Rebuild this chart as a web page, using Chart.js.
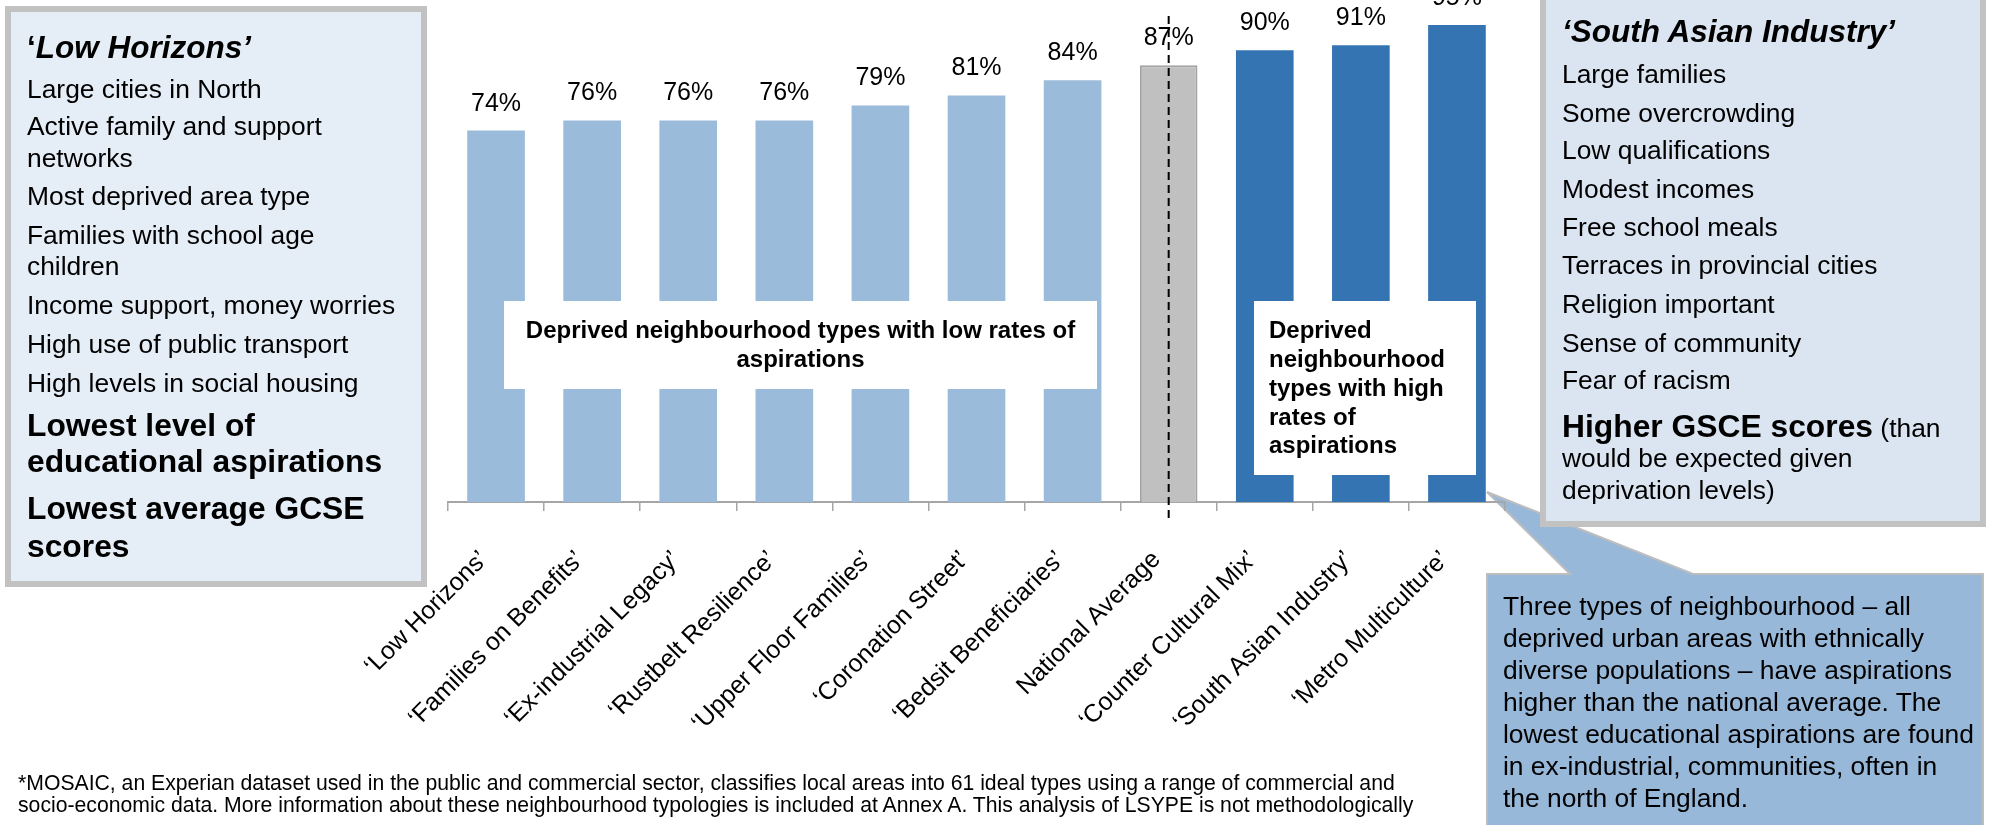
<!DOCTYPE html>
<html>
<head>
<meta charset="utf-8">
<script src="https://cdn.jsdelivr.net/npm/chart.js@4.4.1/dist/chart.umd.min.js"></script>
<style>
  html, body { margin: 0; padding: 0; }
  body { width: 1992px; height: 825px; overflow: hidden; background: #fff; position: relative;
         font-family: "Liberation Sans", Arial, sans-serif; color: #000; }
  .t { position: absolute; white-space: pre; }
  .box { position: absolute; box-sizing: border-box; }
</style>
</head>
<body>
<svg id="callout" width="1992" height="825" style="position:absolute;left:0;top:0;z-index:1">
  <path d="M1487,574 L1570,574 L1487,492 L1693,574 L1983,574 L1983,840 L1487,840 Z"
        fill="#98b8da" stroke="#bdbdbd" stroke-width="2" stroke-linejoin="miter"/>
</svg>
<canvas id="chart" width="1992" height="825" style="position:absolute;left:0;top:0;z-index:2;width:1992px;height:825px"></canvas>
<div id="overlay" style="position:absolute;left:0;top:0;width:1992px;height:825px;z-index:3;pointer-events:none"></div>
<script>
// ---------- DATA ----------
const categories = [
  "\u2018Low Horizons\u2019",
  "\u2018Families on Benefits\u2019",
  "\u2018Ex-industrial Legacy\u2019",
  "\u2018Rustbelt Resilience\u2019",
  "\u2018Upper Floor Families\u2019",
  "\u2018Coronation Street\u2019",
  "\u2018Bedsit Beneficiaries\u2019",
  "National Average",
  "\u2018Counter Cultural Mix\u2019",
  "\u2018South Asian Industry\u2019",
  "\u2018Metro Multiculture\u2019"
];
const values = [74, 76, 76, 76, 79, 81, 84, 87, 90, 91, 95];
const groups = ["low", "low", "low", "low", "low", "low", "low", "avg", "high", "high", "high"];

const lowBoxLines = ["Deprived neighbourhood types with low rates of", "aspirations"];
const highBoxLines = ["Deprived", "neighbourhood", "types with high", "rates of", "aspirations"];
const leftTitle = "Low Horizons";
const leftLines = ["Large cities in North", "Active family and support", "networks", "Most deprived area type",
  "Families with school age", "children", "Income support, money worries", "High use of public transport",
  "High levels in social housing"];
const leftBold = ["Lowest level of", "educational aspirations", "Lowest average GCSE", "scores"];
const rightTitle = "South Asian Industry";
const rightLines = ["Large families", "Some overcrowding", "Low qualifications", "Modest incomes", "Free school meals",
  "Terraces in provincial cities", "Religion important", "Sense of community", "Fear of racism"];
const rightBold = "Higher GSCE scores";
const rightTail = [" (than", "would be expected given", "deprivation levels)"];
const calloutLines = ["Three types of neighbourhood \u2013 all", "deprived urban areas with ethnically",
  "diverse populations \u2013 have aspirations", "higher than the national average. The",
  "lowest educational aspirations are found", "in ex-industrial, communities, often in", "the north of England."];
const footnoteLines = [
  "*MOSAIC, an Experian dataset used in the public and commercial sector, classifies local areas into 61 ideal types using a range of commercial and",
  "socio-economic data. More information about these neighbourhood typologies is included at Annex A. This analysis of LSYPE is not methodologically"
];

// ---------- STYLE ----------
const FONT = '"Liberation Sans", Arial, sans-serif';
const groupColors = { low: "#9bbbdb", avg: "#c0c0c0", high: "#3474b2" };
const groupBorder = { low: "#9bbbdb", avg: "#a3a3a3", high: "#3474b2" };

// ---------- HTML overlay text ----------
const overlay = document.getElementById("overlay");
function el(tag, cls, css, parent) {
  const e = document.createElement(tag);
  if (cls) e.className = cls;
  Object.assign(e.style, css || {});
  (parent || overlay).appendChild(e);
  return e;
}
function line(text, x, baseline, size, opts) {
  opts = opts || {};
  const e = el("div", "t", {
    left: x + "px", top: (baseline - 0.8465 * size) + "px",
    fontSize: size + "px", lineHeight: size + "px",
    fontWeight: opts.bold ? "bold" : "normal",
    fontStyle: opts.italic ? "italic" : "normal"
  });
  if (opts.width) { e.style.width = opts.width + "px"; e.style.textAlign = "center"; }
  if (opts.html) e.innerHTML = text; else e.textContent = text;
  return e;
}

// left box
el("div", "box", { left: "5px", top: "6px", width: "422px", height: "581px",
  background: "#e5edf6", border: "6px solid #c2c2c2" });
line("<span style='font-style:normal'>\u2018</span>" + leftTitle + "\u2019", 27, 59, 31.5, { bold: true, italic: true, html: true });
[98, 135, 167, 205, 244, 275, 314, 353, 392].forEach((b, i) => line(leftLines[i], 27, b, 26.4));
[437, 473, 520, 558].forEach((b, i) => line(leftBold[i], 27, b, 31.8, { bold: true }));

// right box
el("div", "box", { left: "1540px", top: "-20px", width: "446px", height: "547px",
  background: "#dbe5f1", border: "6px solid #c2c2c2" });
line("\u2018" + rightTitle + "\u2019", 1562, 43, 31.5, { bold: true, italic: true });
[83, 122, 159, 198, 236, 274, 313, 352, 389].forEach((b, i) => line(rightLines[i], 1562, b, 26.4));
line("<b style='font-size:31.8px'>" + rightBold + "</b>" + rightTail[0], 1562, 435, 26.4, { html: true });
line(rightTail[1], 1562, 467, 26.4);
line(rightTail[2], 1562, 499, 26.4);

// callout text
[615, 647, 679, 711, 743, 775, 807].forEach((b, i) => line(calloutLines[i], 1503, b, 26.4));

// white boxes over bars
el("div", "box", { left: "504px", top: "301px", width: "593px", height: "88px", background: "#fff" });
line(lowBoxLines[0], 504, 338, 24, { bold: true, width: 593 });
line(lowBoxLines[1], 504, 367, 24, { bold: true, width: 593 });
el("div", "box", { left: "1254px", top: "301px", width: "222px", height: "174px", background: "#fff" });
[338, 367, 396, 425, 453].forEach((b, i) => line(highBoxLines[i], 1269, b, 24, { bold: true }));

// footnote
line(footnoteLines[0], 18, 790, 21.2);
line(footnoteLines[1], 18, 812, 21.2);

// ---------- CHART ----------
const avgIndex = groups.indexOf("avg");
const overlayPlugin = {
  id: "valueLabels",
  afterDatasetsDraw(chart) {
    const ctx = chart.ctx;
    const meta = chart.getDatasetMeta(0);
    ctx.save();
    ctx.font = "25px " + FONT;
    ctx.fillStyle = "#000";
    ctx.textAlign = "center";
    ctx.textBaseline = "alphabetic";
    meta.data.forEach((bar, i) => ctx.fillText(values[i] + "%", bar.x, bar.y - 20));
    // dashed national-average reference line
    const x = chart.scales.x.getPixelForValue(avgIndex);
    const yTop = chart.scales.y.getPixelForValue(96.8);
    ctx.setLineDash([8, 5]);
    ctx.lineWidth = 2;
    ctx.strokeStyle = "#000";
    ctx.beginPath();
    ctx.moveTo(x, yTop);
    ctx.lineTo(x, chart.chartArea.bottom + 21);
    ctx.stroke();
    ctx.restore();
  }
};

new Chart(document.getElementById("chart"), {
  type: "bar",
  data: {
    labels: categories,
    datasets: [{
      data: values,
      backgroundColor: groups.map(g => groupColors[g]),
      borderColor: groups.map(g => groupBorder[g]),
      borderWidth: groups.map(g => g === "avg" ? 2 : 0),
      categoryPercentage: 1.0,
      barPercentage: 0.6
    }]
  },
  options: {
    responsive: false,
    animation: false,
    layout: { padding: { left: 448, right: 487, top: 0, bottom: 0 } },
    plugins: { legend: { display: false }, tooltip: { enabled: false } },
    scales: {
      y: { display: false, min: 0, max: 100 },
      x: {
        grid: { display: true, drawOnChartArea: false, drawTicks: true, tickLength: 9,
                color: "#a6a6a6", lineWidth: 1.5, offset: true },
        border: { display: true, color: "#a6a6a6", width: 2 },
        ticks: { minRotation: 45, maxRotation: 45, autoSkip: false, color: "#000",
                 font: { family: FONT, size: 25 }, padding: 34, labelOffset: -12 },
        afterFit(scale) { scale.height = 323; }
      }
    }
  },
  plugins: [overlayPlugin]
});
</script>
</body>
</html>
